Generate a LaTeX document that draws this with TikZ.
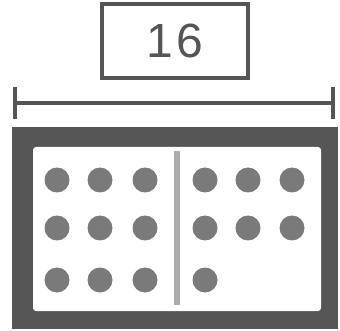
\documentclass[tikz,border=0pt]{standalone}
\usepackage{fontspec}
\setmainfont{Liberation Sans}
\definecolor{frame}{HTML}{555555}
\definecolor{dotc}{HTML}{7A7A7A}
\definecolor{divc}{HTML}{AAAAAA}
\begin{document}
\begin{tikzpicture}[x=1pt,y=-1pt,
  labelbox/.style={draw=frame,line width=4pt,minimum width=146pt,minimum height=74pt,inner sep=0pt,text=frame,font=\fontsize{48}{48}\selectfont},
  dimline/.style={draw=frame,line width=4.5pt},
  tickline/.style={draw=frame,line width=4pt},
  counter/.style={circle,fill=dotc,minimum size=25pt,inner sep=0pt}]
\useasboundingbox (0,0) rectangle (340,331);
\node[labelbox] (lbl) at (175,41) {1\kern4pt6};
\coordinate (dl) at (15,103);
\coordinate (dr) at (333,103);
\draw[dimline] (dl) -- (dr);
\draw[tickline] ([yshift=-16pt]dl) -- ([yshift=16pt]dl);
\draw[tickline] ([yshift=-16pt]dr) -- ([yshift=16pt]dr);
% tray
\node[fill=frame,minimum width=326pt,minimum height=202pt,inner sep=0pt] (tray) at (175,228) {};
\node[fill=white,rounded corners=3pt,minimum width=288pt,minimum height=164pt,inner sep=0pt] (inner) at (177,229) {};
\draw[divc,line width=6pt] (177,151) coordinate (dt) -- (177,305) coordinate (db);
\foreach \r/\y in {1/180,2/228,3/280}{
  \foreach \c/\x in {1/57,2/100,3/145}{
    \node[counter] (d\r\c) at (\x,\y) {};
  }
}
\foreach \r/\y in {1/180,2/228}{
  \foreach \c/\x in {4/205,5/248,6/292}{
    \node[counter] (d\r\c) at (\x,\y) {};
  }
}
\node[counter] (d34) at (205,280) {};
\end{tikzpicture}
\end{document}
